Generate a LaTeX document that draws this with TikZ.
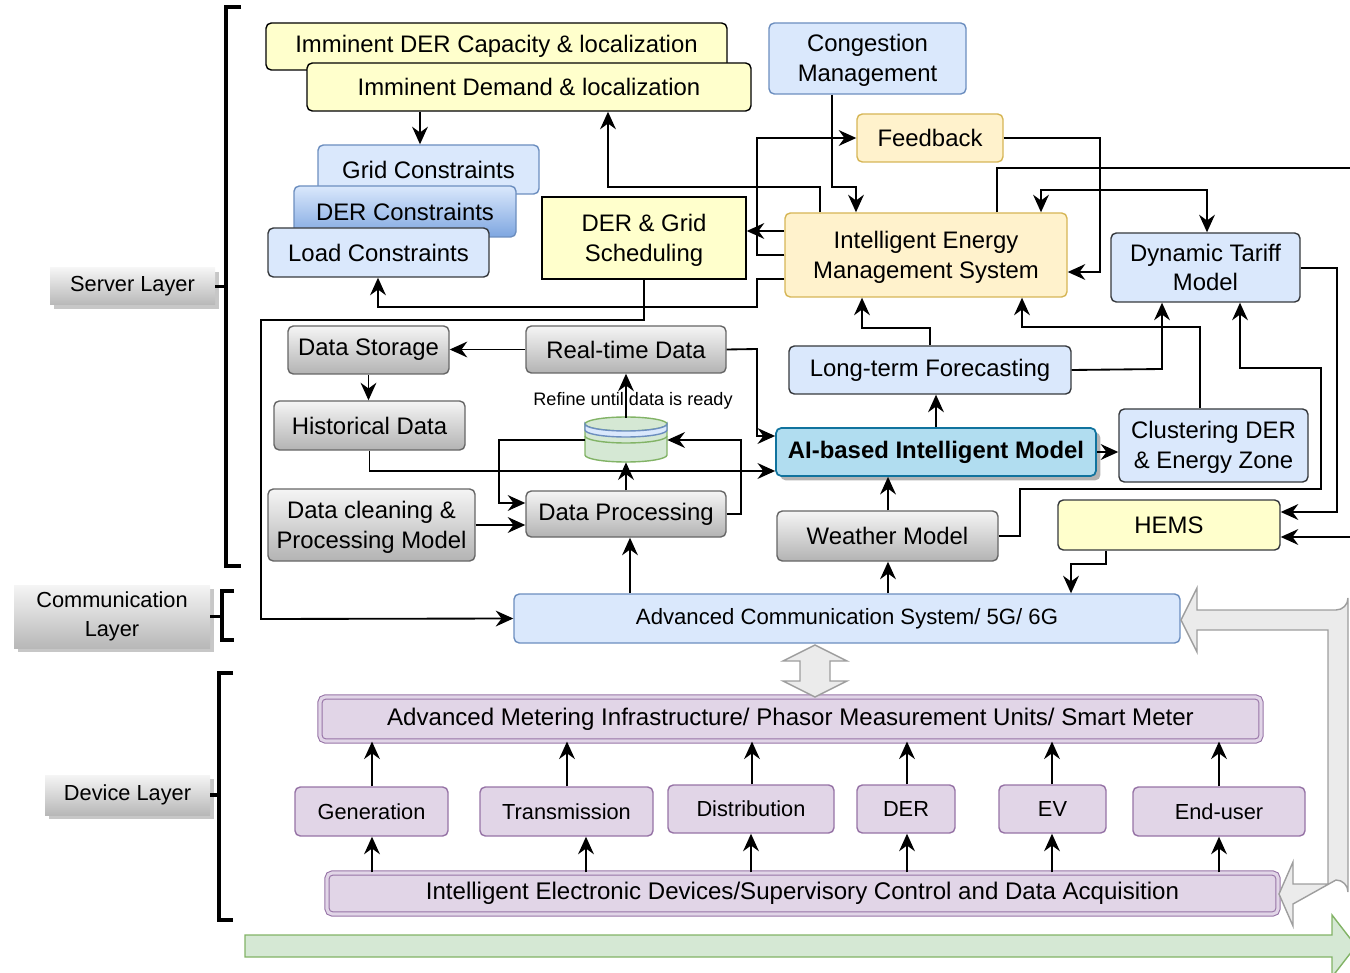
\documentclass[tikz,border=0pt]{standalone}
\usepackage{fontspec}
\setmainfont{Liberation Sans}
\usetikzlibrary{arrows.meta,shadows}
\definecolor{yel}{HTML}{FFFFCC}
\definecolor{ora}{HTML}{FFF2CC}
\definecolor{oraB}{HTML}{D6B656}
\definecolor{blu}{HTML}{DAE8FC}
\definecolor{bluB}{HTML}{6C8EBF}
\definecolor{bluD}{HTML}{7EA6E0}
\definecolor{darkB}{HTML}{36393D}
\definecolor{aiF}{HTML}{B1DDF0}
\definecolor{aiB}{HTML}{10739E}
\definecolor{grT}{HTML}{F5F5F5}
\definecolor{grB}{HTML}{B3B3B3}
\definecolor{grD}{HTML}{666666}
\definecolor{pur}{HTML}{E1D5E7}
\definecolor{purB}{HTML}{9673A6}
\definecolor{grn}{HTML}{D5E8D4}
\definecolor{grnB}{HTML}{82B366}
\newcommand\fsA{\fontsize{13.6pt}{17pt}\selectfont}
\newcommand\fsB{\fontsize{12.4pt}{16.5pt}\selectfont}
\newcommand\fsD{\fontsize{13.7pt}{16.5pt}\selectfont}
\newcommand\fsE{\fontsize{12.6pt}{16.5pt}\selectfont}
\newcommand\fsC{\fontsize{10.3pt}{12pt}\selectfont}
\newcommand\fl{\rule{0pt}{12.2pt}}
\newcommand\mybox[7]{\node[#6, minimum width={(#4-#2)*0.02cm}, minimum height={(#5-#3)*0.02cm}] (#1) at ({(#2+#4)/2},{(#3+#5)/2}) {#7};}
\tikzset{
  bx/.style={draw, line width=0.8pt, rounded corners=3pt, inner sep=0pt, align=center, font=\fsA},
  yelbox/.style={bx, fill=yel, draw=black},
  schedbox/.style={bx, fill=yel, draw=black, sharp corners},
  orabox/.style={bx, fill=ora, draw=oraB},
  blubox/.style={bx, fill=blu, draw=bluB},
  bludark/.style={bx, fill=blu, draw=darkB},
  bluegrad/.style={bx, top color=blu, bottom color=bluD, draw=bluB},
  aibox/.style={bx, fill=aiF, draw=aiB, line width=1pt, font=\fsA\bfseries, drop shadow={shadow xshift=2.5pt, shadow yshift=-2.5pt, fill=black!30, opacity=1}},
  graybox/.style={bx, top color=grT, bottom color=grB, draw=grD},
  purbox/.style={bx, fill=pur, draw=purB, font=\fsB},
  purdbl/.style={bx, fill=pur, draw=purB, line width=0.6pt, double=pur, double distance=1.8pt, font=\fsD},
  layer/.style={inner sep=0pt, align=center, font=\fsB, top color=grT, bottom color=black!28, drop shadow={shadow xshift=2.5pt, shadow yshift=-2.5pt, fill=black!22, opacity=1}},
  arr/.style={draw=black, line width=1.05pt, -{Stealth[length=10pt,width=9pt,inset=3.3pt]}},
  arr2/.style={draw=black, line width=1.05pt, {Stealth[length=10pt,width=9pt,inset=3.3pt]}-{Stealth[length=10pt,width=9pt,inset=3.3pt]}},
  brk/.style={draw=black, line width=1.8pt},
  bigarrow/.style={fill=black!8, draw=black!38, line width=0.8pt}
}
\begin{document}
\begin{tikzpicture}[x=0.02cm,y=-0.02cm]
\useasboundingbox (0,0) rectangle (1350,973);

% layer labels and brackets
\mybox{slay}{50}{268}{215}{305}{layer}{Server Layer}
\mybox{clay}{14}{585}{210}{648}{layer}{Communication\\Layer}
\mybox{dlay}{45}{775}{210}{815}{layer}{Device Layer}
\draw[brk] (241,7) -- (226,7) -- (226,566) -- (241,566);
\draw[brk] (slay.east) -- (226,0 |- slay.east);
\draw[brk] (234,591) -- (222,591) -- (222,640) -- (234,640);
\draw[brk] (clay.east) -- (222,0 |- clay.east);
\draw[brk] (233,673) -- (219,673) -- (219,920) -- (233,920);
\draw[brk] (dlay.east) -- (219,0 |- dlay.east);

% server layer boxes
\mybox{cap}{266}{23}{727}{70}{yelbox}{Imminent DER Capacity \& localization}
\mybox{dem}{307}{63}{751}{111}{yelbox}{Imminent Demand \& localization}
\mybox{gc}{318}{145}{539}{194}{blubox}{Grid Constraints}
\mybox{dc}{294}{186}{516}{237}{bluegrad}{DER Constraints}
\mybox{load}{268}{228}{489}{277}{bludark}{Load Constraints}
\mybox{sched}{542}{197}{746}{279}{schedbox}{\fl DER \& Grid\\Scheduling}
\mybox{cong}{769}{23}{966}{94}{blubox}{\fl Congestion\\Management}
\mybox{fb}{857}{114}{1003}{162}{orabox}{Feedback}
\mybox{iems}{785}{213}{1067}{297}{orabox}{\fl Intelligent Energy\\Management System}
\mybox{dt}{1111}{233}{1300}{302}{bludark}{Dynamic Tariff\\Model}
\mybox{ds}{288}{326}{449}{374}{graybox}{Data Storage}
\mybox{rt}{526}{326}{726}{373}{graybox}{Real-time Data}
\mybox{hist}{274}{401}{465}{450}{graybox}{Historical Data}
\mybox{dcl}{268}{489}{475}{561}{graybox}{\fl Data cleaning \&\\Processing Model}
\mybox{dp}{526}{491}{726}{537}{graybox}{Data Processing}
\mybox{ltf}{789}{346}{1071}{394}{bludark}{Long-term Forecasting}
\mybox{ai}{776}{428}{1096}{476}{aibox}{AI-based Intelligent Model}
\mybox{clu}{1119}{409}{1308}{482}{bludark}{\fl Clustering DER\\\& Energy Zone}
\mybox{wm}{777}{511}{998}{561}{graybox}{Weather Model}
\mybox{hems}{1058}{500}{1280}{550}{bx,fill=yel,draw=darkB}{HEMS}

% cylinder (data refinement store)
\node[minimum width={82*0.02cm}, minimum height={44*0.02cm}, inner sep=0pt] (cyl) at (626,440) {};
\filldraw[fill=grn, draw=grnB, line width=0.8pt] (585,424) -- (585,455) arc[start angle=180, end angle=360, x radius=41, y radius=-7] -- (667,424) -- cycle;
\filldraw[fill=grn, draw=grnB, line width=0.8pt] (626,424) ellipse[x radius=41, y radius=7];
\filldraw[fill=blu, draw=bluB, line width=0.8pt] (585,424) arc[start angle=180, end angle=360, x radius=41, y radius=-7] -- (667,430) arc[start angle=360, end angle=180, x radius=41, y radius=-7] -- cycle;
\draw[grnB, line width=0.8pt] (585,436) arc[start angle=180, end angle=360, x radius=41, y radius=-7];
\node[font=\fsC, inner sep=0pt] (refine) at (633,401) {Refine until data is ready};

% communication
\mybox{comm}{514}{594}{1180}{643}{bx,fill=blu,draw=bluB,font=\fsE}{Advanced Communication System/ 5G/ 6G}

% device layer
\mybox{ami}{320}{697}{1261}{741}{purdbl}{Advanced Metering Infrastructure/ Phasor Measurement Units/ Smart Meter}
\mybox{gen}{295}{787}{448}{836}{purbox}{Generation}
\mybox{tra}{480}{787}{653}{836}{purbox}{Transmission}
\mybox{dis}{668}{785}{834}{833}{purbox}{Distribution}
\mybox{der}{857}{785}{955}{833}{purbox}{DER}
\mybox{ev}{999}{785}{1106}{833}{purbox}{EV}
\mybox{eu}{1133}{787}{1305}{836}{purbox}{End-user}
\mybox{ied}{327}{873}{1278}{914}{purdbl}{Intelligent Electronic Devices/Supervisory Control and Data Acquisition}

% big shape arrows
\draw[bigarrow] (815,645) -- (847,661) -- (830,661) -- (830,681) -- (847,681) -- (815,697) -- (783,681) -- (800,681) -- (800,661) -- (783,661) -- cycle;
\draw[bigarrow] (1181,620) -- (1197,588) -- (1197,610) -- (1336,610) arc[start angle=90, end angle=0, radius=12] -- (1348,892) arc[start angle=0, end angle=-90, radius=12] -- (1293,904) -- (1293,926) -- (1279,894) -- (1293,862) -- (1293,884) -- (1328,884) -- (1328,630) -- (1197,630) -- (1197,652) -- cycle;
\draw[fill=grn, draw=grnB, line width=0.8pt] (245,935) -- (1332,935) -- (1332,915) -- (1356,946) -- (1332,977) -- (1332,957) -- (245,957) -- cycle;

% connectors
\draw[arr] (420,0 |- dem.south) -- (420,0 |- gc.north);
\draw[arr] (820,0 |- iems.north) -- (820,187) -- (608,187) -- (608,0 |- dem.south);
\draw[arr] (832,0 |- cong.south) -- (832,187) -- (856,187) -- (856,0 |- iems.north);
\draw[arr] (iems.west |- 0,255) -- (757,255) -- (757,138) -- (fb.west);
\draw[arr] (iems.west |- 0,231) -- (sched.east |- 0,231);
\draw[arr] (iems.west |- 0,279) -- (757,279) -- (757,307) -- (378,307) -- (378,0 |- load.south);
\draw[arr] (sched.south) -- (644,320) -- (261,320) -- (261,619) -- (comm.west);
\draw[arr] (fb.east) -- (1100,138) -- (1100,272) -- (iems.east |- 0,272);
\draw[arr] (997,0 |- iems.north) -- (997,168) -- (1365,168) -- (1365,537) -- (hems.east |- 0,537);
\draw[arr2] (1041,0 |- iems.north) -- (1041,190) -- (1207,190) -- (1207,0 |- dt.north);
\draw[arr] (dt.east |- 0,268) -- (1337,268) -- (1337,512) -- (hems.east |- 0,512);
\draw[arr] (930,0 |- ltf.north) -- (930,328) -- (862,328) -- (862,0 |- iems.south);
\draw[arr] (1200,0 |- clu.north) -- (1200,327) -- (1022,327) -- (1022,0 |- iems.south);
\draw[arr] (ltf.east) -- (1162,369) -- (1162,0 |- dt.south);
\draw[arr] (wm.east) -- (1020,536) -- (1020,489) -- (1321,489) -- (1321,368) -- (1240,368) -- (1240,0 |- dt.south);
\draw[arr] (936,0 |- ai.north) -- (936,0 |- ltf.south);
\draw[arr] (ai.east) -- (clu.west |- ai.east);
\draw[arr] (888,0 |- wm.north) -- (888,0 |- ai.south);
\draw[arr] (rt.east) -- (757,349) -- (757,436) -- (ai.west |- 0,436);
\draw[arr] (hist.south) -- (369.5,471) -- (ai.west |- 0,471);
\draw[arr] (rt.west) -- (ds.east |- rt.west);
\draw[arr] (ds.south) -- (ds.south |- hist.north);
\draw[arr] (dcl.east) -- (dp.west |- dcl.east);
\draw[arr] (dp.north) -- (cyl.south);
\draw[arr] (cyl.north) -- (rt.south);
\draw[arr] (cyl.west) -- (499,440) -- (499,503) -- (dp.west |- 0,503);
\draw[arr] (dp.east) -- (741,514) -- (741,440) -- (cyl.east);
\draw[arr] (630,0 |- comm.north) -- (630,0 |- dp.south);
\draw[arr] (888,0 |- comm.north) -- (888,0 |- wm.south);
\draw[arr] (1106,0 |- hems.south) -- (1106,564) -- (1071,564) -- (1071,0 |- comm.north);

% device arrows
\draw[arr] (372,0 |- gen.north) -- (372,0 |- ami.south);
\draw[arr] (567,0 |- tra.north) -- (567,0 |- ami.south);
\draw[arr] (752,0 |- dis.north) -- (752,0 |- ami.south);
\draw[arr] (907,0 |- der.north) -- (907,0 |- ami.south);
\draw[arr] (1052,0 |- ev.north) -- (1052,0 |- ami.south);
\draw[arr] (1219,0 |- eu.north) -- (1219,0 |- ami.south);
\draw[arr] (372,0 |- ied.north) -- (372,0 |- gen.south);
\draw[arr] (586,0 |- ied.north) -- (586,0 |- tra.south);
\draw[arr] (751,0 |- ied.north) -- (751,0 |- dis.south);
\draw[arr] (907,0 |- ied.north) -- (907,0 |- der.south);
\draw[arr] (1052,0 |- ied.north) -- (1052,0 |- ev.south);
\draw[arr] (1219,0 |- ied.north) -- (1219,0 |- eu.south);
\end{tikzpicture}
\end{document}
